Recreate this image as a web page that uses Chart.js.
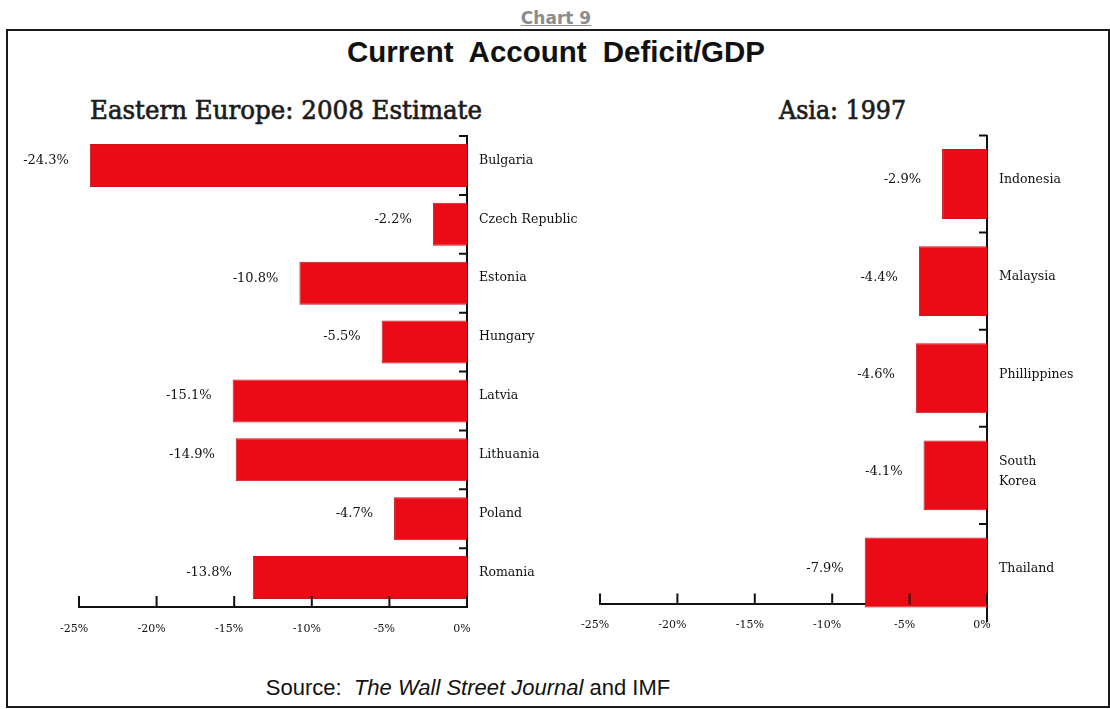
<!DOCTYPE html>
<html>
<head>
<meta charset="utf-8">
<script src="https://cdn.jsdelivr.net/npm/chart.js@4/dist/chart.umd.min.js"></script>
<style>
  html, body { margin:0; padding:0; background:#fff; }
  body { width:1110px; height:709px; position:relative; overflow:hidden; }
  .abs { position:absolute; }
  #chartNo { left:0; width:1112px; top:8px; text-align:center; font:bold 17px "DejaVu Sans", Verdana, sans-serif; line-height:20px; color:#8c8c8c; text-decoration:underline; }
  #frame { left:6px; top:29px; width:1100px; height:675px; border:2px solid #1a1a1a; }
  #title { left:0; width:1112px; top:37px; text-align:center; font:bold 29.5px "Liberation Sans", Arial, sans-serif; line-height:29.5px; color:#111; word-spacing:8px; white-space:nowrap; }
  .sub { font:26px "DejaVu Serif", serif; line-height:26px; color:#1c1c1c; -webkit-text-stroke:0.7px #1c1c1c; white-space:nowrap; transform-origin:left center; }
  #subL { left:90px; top:97px; }
  #subR { left:779px; top:97px; }
  #source { left:0; width:936px; top:675px; text-align:center; font:22px "Liberation Sans", Arial, sans-serif; line-height:26px; color:#111; white-space:pre; }
  canvas { position:absolute; }
</style>
</head>
<body>
<div id="chartNo" class="abs">Chart 9</div>
<div id="frame" class="abs"></div>
<div id="title" class="abs">Current Account Deficit/GDP</div>
<div id="subL" class="abs sub" data-w="392">Eastern Europe: 2008 Estimate</div>
<div id="subR" class="abs sub" data-w="127">Asia: 1997</div>
<div id="source" class="abs">Source:  <i>The Wall Street Journal</i> and IMF</div>
<div class="abs" style="left:0;top:120px;width:600px;height:530px;"><canvas id="cL"></canvas></div>
<div class="abs" style="left:560px;top:120px;width:550px;height:521px;"><canvas id="cR"></canvas></div>
<script>
// ---- data ----
const euroCountries = ["Bulgaria", "Czech Republic", "Estonia", "Hungary", "Latvia", "Lithuania", "Poland", "Romania"];
const euroValues = [-24.3, -2.2, -10.8, -5.5, -15.1, -14.9, -4.7, -13.8];
const asiaCountries = ["Indonesia", "Malaysia", "Phillippines", ["South", "Korea"], "Thailand"];
const asiaValues = [-2.9, -4.4, -4.6, -4.1, -7.9];
const xMin = -25, xMax = 0, xStep = 5;
const asiaAxisCross = 4.33;   // category position where the Asia value axis crosses

// fit subtitle widths
document.querySelectorAll('.sub').forEach(el => {
  const w = el.getBoundingClientRect().width;
  el.style.transform = 'scaleX(' + (parseFloat(el.dataset.w) / w) + ')';
});

const INK = '#111';
const serif = '"DejaVu Serif", "Liberation Serif", serif';

const decorations = {
  id: 'decorations',
  afterDatasetsDraw(chart, args, opts) {
    const ctx = chart.ctx, x = chart.scales.x, y = chart.scales.y;
    const vals = chart.data.datasets[0].data;
    const pos = x.options.position;
    const axY = (typeof pos === 'object') ? y.getPixelForValue(pos.y) : x.top;
    ctx.save();
    ctx.strokeStyle = INK; ctx.lineWidth = 2;
    ctx.beginPath();
    x.ticks.forEach(t => {
      const px = x.getPixelForValue(t.value);
      ctx.moveTo(px, axY); ctx.lineTo(px, axY - 11);
    });
    for (let i = 0; i < vals.length; i++) {
      const py = y.getPixelForValue(i - 0.5);
      ctx.moveTo(y.left, py); ctx.lineTo(y.left - 8, py);
    }
    ctx.stroke();
    ctx.font = '13px ' + serif;
    ctx.fillStyle = INK; ctx.textAlign = 'right'; ctx.textBaseline = 'middle';
    chart.getDatasetMeta(0).data.forEach((bar, i) => {
      ctx.fillText(vals[i].toFixed(1) + '%', bar.x - 21, bar.y + opts.dy);
    });
    ctx.restore();
  }
};

function makeChart(id, labels, values, cfg) {
  return new Chart(document.getElementById(id), {
    type: 'bar',
    data: { labels: labels, datasets: [{ data: values, backgroundColor: '#ea0b16', borderColor: '#c8151c', borderWidth: 1, categoryPercentage: 1, barPercentage: cfg.barPct, clip: false }] },
    options: {
      indexAxis: 'y', responsive: true, maintainAspectRatio: false, animation: false,
      layout: { padding: { left: cfg.padLeft, top: cfg.padTop, right: 0, bottom: cfg.padBottom } },
      plugins: { legend: { display: false }, tooltip: { enabled: false }, decorations: { dy: cfg.dy } },
      scales: {
        x: {
          position: cfg.xPos,
          min: xMin, max: xMax,
          grid: { display: false },
          border: { display: true, color: INK, width: 2 },
          ticks: { stepSize: xStep, color: INK, font: { family: serif, size: 11 }, padding: cfg.xPad, labelOffset: -5, maxRotation: 0, callback: v => v + '%' },
          afterFit: s => { s.height = 43; }
        },
        y: {
          position: 'right',
          grid: { display: false },
          border: { display: true, color: INK, width: 2 },
          ticks: { color: INK, font: { family: serif, size: 12.5, lineHeight: 1.6 }, padding: 4, labelOffset: cfg.dy },
          afterFit: s => { s.width = cfg.yWidth; }
        }
      }
    },
    plugins: [decorations]
  });
}

makeChart('cL', euroCountries, euroValues, { yWidth: 133, padLeft: 79, padTop: 16, padBottom: 0, barPct: 0.73, xPos: 'bottom', xPad: 8, dy: -5 });
makeChart('cR', asiaCountries, asiaValues, { yWidth: 123, padLeft: 40, padTop: 15.5, padBottom: 20, barPct: 0.72, xPos: { y: asiaAxisCross }, xPad: 6, dy: -4 });
</script>
</body>
</html>
